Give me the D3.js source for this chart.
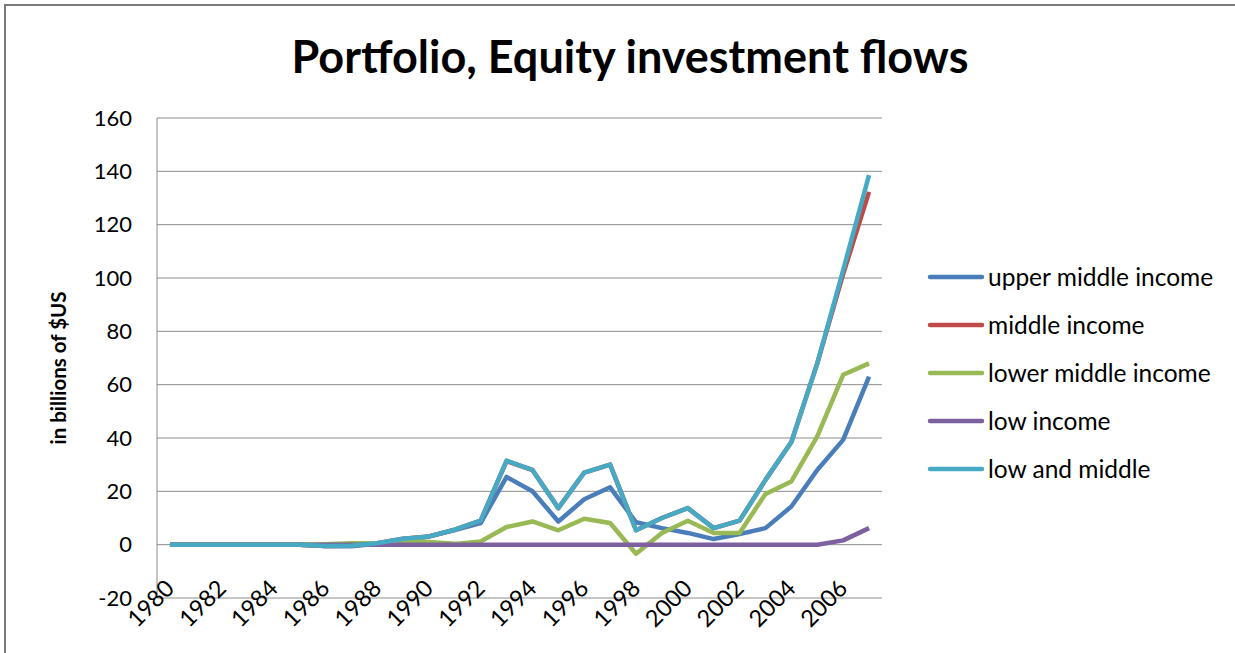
<!DOCTYPE html>
<html>
<head>
<meta charset="utf-8">
<script src="https://cdn.jsdelivr.net/npm/d3@7"></script>
<style>
  body { margin: 0; background: #fff; }
  text { font-family: Lato, "Noto Sans", sans-serif; fill: #000; }
</style>
</head>
<body>
<div id="chart"></div>
<script>
'use strict'

const years = [1980, 1981, 1982, 1983, 1984, 1985, 1986, 1987, 1988, 1989,
               1990, 1991, 1992, 1993, 1994, 1995, 1996, 1997, 1998, 1999,
               2000, 2001, 2002, 2003, 2004, 2005, 2006, 2007];

const upperMiddle = [0, 0, 0, 0, 0, 0, -0.5, -0.6, 0.3, 2, 3, 5.5, 8.1, 25.4, 20, 8.7,
                     17, 21.5, 8.4, 6.2, 4.4, 2.1, 4, 6.2, 14.3, 28, 39.3, 63];
const middle = [0, 0, 0, 0, 0, 0, -0.5, -0.4, 0.5, 2.2, 3.1, 5.6, 9, 31.3, 28, 13.7,
                27, 30, 5.4, 10, 13.7, 6.2, 9, 24.3, 38.5, 68, 101.5, 132.3];
const lowerMiddle = [0, 0, 0, 0, 0, 0, 0.2, 0.5, 0.5, 1.5, 1, 0.3, 1.2, 6.6, 8.7, 5.4,
                     9.7, 8.1, -3.4, 4.4, 9, 4.4, 4.4, 19, 23.7, 40.6, 63.7, 68];
const low = [0, 0, 0, 0, 0, 0, 0, 0, 0, 0, 0, 0, 0, 0, 0, 0,
             0, 0, 0, 0, 0, 0, 0, 0, 0, 0, 1.6, 6.2];
const lowAndMiddle = [0, 0, 0, 0, 0, 0, -0.5, -0.4, 0.5, 2.2, 3.1, 5.6, 9, 31.5, 28, 13.7,
                      27, 30, 5.4, 10, 13.7, 6.2, 9, 24.3, 38.5, 68, 103, 138.6];

const seriesNames = ['upper middle income', 'middle income', 'lower middle income',
                     'low income', 'low and middle'];
const seriesColors = ['#4a7ebb', '#be4b48', '#98b954', '#7d60a0', '#46aac5'];
const seriesValues = [upperMiddle, middle, lowerMiddle, low, lowAndMiddle];
const yTicks = [-20, 0, 20, 40, 60, 80, 100, 120, 140, 160];

const W = 1235, H = 653;
const plot = { left: 157, right: 882, top: 118, bottom: 598 };

const svg = d3.select('#chart')
    .append('svg')
    .attr('width', W)
    .attr('height', H);

// outer chart frame
svg.append('rect')
    .attr('x', 5).attr('y', 5)
    .attr('width', W + 10).attr('height', H + 10)
    .attr('fill', 'none')
    .attr('stroke', '#7a7a7a')
    .attr('stroke-width', 2);

const x = d3.scaleBand()
    .domain(years)
    .range([plot.left, plot.right]);

const y = d3.scaleLinear()
    .domain([-20, 160])
    .range([plot.bottom, plot.top]);

// horizontal gridlines
svg.append('g')
    .selectAll('line')
    .data(yTicks)
    .enter().append('line')
    .attr('x1', plot.left).attr('x2', plot.right)
    .attr('y1', d => y(d)).attr('y2', d => y(d))
    .attr('stroke', '#8c8c8c')
    .attr('stroke-width', 1);

// vertical axis line
svg.append('line')
    .attr('x1', plot.left).attr('x2', plot.left)
    .attr('y1', plot.top).attr('y2', plot.bottom)
    .attr('stroke', '#8c8c8c');

// y tick labels
svg.append('g')
    .selectAll('text')
    .data(yTicks)
    .enter().append('text')
    .attr('x', plot.left - 25)
    .attr('y', d => y(d))
    .attr('dy', '0.35em')
    .attr('text-anchor', 'end')
    .style('font-size', '22px')
    .text(d => d);

// x tick labels, every other year, rotated
svg.append('g')
    .selectAll('text')
    .data(years.filter((d, i) => i % 2 === 0))
    .enter().append('text')
    .attr('transform', d => `translate(${x(d) + x.bandwidth() / 2},${plot.bottom - 14}) rotate(-45)`)
    .attr('dy', '0.35em')
    .attr('text-anchor', 'end')
    .style('font-size', '23.5px')
    .text(d => d);

// lines
const line = d3.line()
    .x((d, i) => x(years[i]) + x.bandwidth() / 2)
    .y(d => y(d));

svg.append('g')
    .selectAll('path')
    .data(seriesValues)
    .enter().append('path')
    .attr('d', d => line(d))
    .attr('fill', 'none')
    .attr('stroke', (d, i) => seriesColors[i])
    .attr('stroke-width', 4.5)
    .attr('stroke-linejoin', 'round');

// title
svg.append('text')
    .attr('x', 630)
    .attr('y', 73)
    .attr('text-anchor', 'middle')
    .style('font-size', '45px')
    .style('font-weight', 'bold')
    .text('Portfolio, Equity investment flows');

// y axis title
svg.append('text')
    .attr('transform', 'translate(66,368) rotate(-90)')
    .attr('text-anchor', 'middle')
    .style('font-size', '20.5px')
    .style('font-weight', 'bold')
    .text('in billions of $US');

// legend
const legend = svg.append('g')
    .selectAll('g')
    .data(seriesNames)
    .enter().append('g')
    .attr('transform', (d, i) => `translate(930,${277 + i * 48})`);

legend.append('line')
    .attr('x1', 0).attr('x2', 52)
    .attr('stroke', (d, i) => seriesColors[i])
    .attr('stroke-width', 4.5)
    .attr('stroke-linecap', 'round');

legend.append('text')
    .attr('x', 58)
    .attr('dy', '0.35em')
    .style('font-size', '24.5px')
    .text(d => d);
</script>
</body>
</html>
